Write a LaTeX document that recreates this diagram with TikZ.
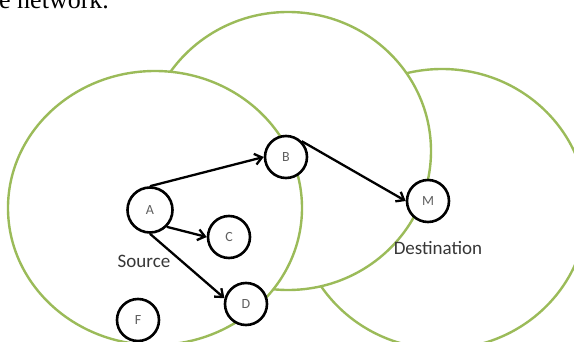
\documentclass[tikz,border=0pt]{standalone}
\usepackage{fontspec}
\setmainfont{Carlito}
\newfontfamily\pagefont{Liberation Serif}
\usetikzlibrary{arrows.meta}
\definecolor{zonegreen}{RGB}{155,187,89}
\definecolor{labelgray}{RGB}{55,55,55}
\definecolor{lettergray}{RGB}{95,95,95}

\begin{document}
\begin{tikzpicture}[x=1pt, y=-1pt,
    zone/.style={draw=zonegreen, line width=2.4pt, fill=white},
    host/.style={circle, draw=black, line width=2.6pt, fill=white, minimum size=42pt,
        inner sep=0pt, text=lettergray, font=\fontsize{14}{14}\selectfont},
    hop/.style={line width=2.3pt, -{Straight Barb[length=7pt,width=11pt]}},
    tag/.style={text=labelgray, inner sep=0pt, font=\fontsize{19}{19}\selectfont}]

    % Frame
    \useasboundingbox (0,0) rectangle (574,342);
    \clip (0,0) rectangle (574,342);

    % Text left over from the page above
    \node[anchor=base west, inner sep=0pt, font=\pagefont\fontsize{26}{26}\selectfont] (pagetext) at (-1,9) {e network.};

    % Radio ranges (back to front)
    \draw[zone] (442,209) ellipse [x radius=145pt, y radius=140pt];
    \draw[zone] (288,151) ellipse [x radius=143pt, y radius=139pt];
    \draw[zone] (155,208) ellipse [x radius=147pt, y radius=137pt];

    % Hosts
    \node[host, minimum size=45pt] (A) at (150,210) {A};
    \node[host] (B) at (286,157) {B};
    \node[host] (C) at (229,237) {C};
    \node[host] (D) at (246,304) {D};
    \node[host] (F) at (138,320) {F};
    \node[host] (M) at (428,201) {M};

    % Labels
    \node[tag] (src) at (144,261) {Source};
    \node[tag] (dst) at (438,248) {Destination};

    % Route
    \draw[hop] (A.north) -- (B.west);
    \draw[hop] (A.south east) -- (C.west);
    \draw[hop] (A.south) -- (D.165);
    \draw[hop] (B.north east) -- (M.west);
\end{tikzpicture}
\end{document}
